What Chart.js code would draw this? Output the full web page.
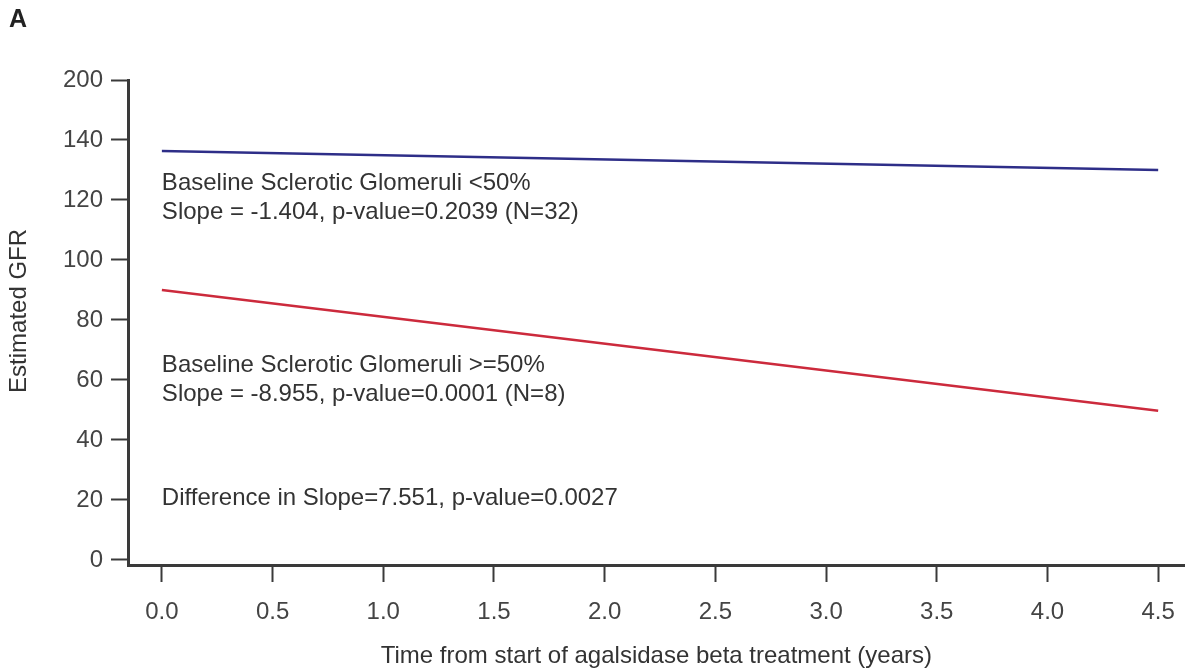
<!DOCTYPE html>
<html>
<head>
<meta charset="utf-8">
<script src="https://cdn.jsdelivr.net/npm/chart.js@4.4.0/dist/chart.umd.min.js"></script>
<style>
  html, body { margin: 0; padding: 0; background: #fff; }
  #wrap { position: relative; width: 1191px; height: 671px; }
  #panel { position: absolute; left: 9px; top: 4px; font: bold 25px "Liberation Sans", Arial, sans-serif; color: #222; }
</style>
</head>
<body>
<div id="wrap">
  <canvas id="c" width="1191" height="671"></canvas>
  <div id="panel">A</div>
</div>
<script>
// ---- data ----
const years = [0, 4.5];
const lowSclerotic = [136.3, 130.0];   // Baseline Sclerotic Glomeruli <50%
const highSclerotic = [90.0, 49.7];    // Baseline Sclerotic Glomeruli >=50%
const xTickValues = [0, 0.5, 1, 1.5, 2, 2.5, 3, 3.5, 4, 4.5];
const yTickValues = [0, 20, 40, 60, 80, 100, 120, 140, 160];
const yTickLabels = ['0', '20', '40', '60', '80', '100', '120', '140', '200'];
const yTitle = 'Estimated GFR';
const annotations = [
  { x: 0, y: 125.7, text: 'Baseline Sclerotic Glomeruli <50%' },
  { x: 0, y: 115.7, text: 'Slope = -1.404, p-value=0.2039 (N=32)' },
  { x: 0, y: 65.0, text: 'Baseline Sclerotic Glomeruli >=50%' },
  { x: 0, y: 55.3, text: 'Slope = -8.955, p-value=0.0001 (N=8)' },
  { x: 0, y: 20.5, text: 'Difference in Slope=7.551, p-value=0.0027' }
];

const FONT = '"Liberation Sans", Arial, sans-serif';
const AXIS = '#3a3a3a';
const FS = 24;

const textPlugin = {
  id: 'texts',
  afterDatasetsDraw(chart) {
    const { ctx, scales: { x, y } } = chart;
    ctx.save();
    ctx.font = FS + 'px ' + FONT;
    ctx.fillStyle = '#333';
    ctx.textAlign = 'left';
    ctx.textBaseline = 'middle';
    annotations.forEach(a => ctx.fillText(a.text, x.getPixelForValue(a.x), y.getPixelForValue(a.y)));
    // y-axis title, centred a little above the middle of the axis as in the original
    ctx.translate(19, y.getPixelForValue(83));
    ctx.rotate(-Math.PI / 2);
    ctx.textAlign = 'center';
    ctx.fillText(yTitle, 0, 0);
    ctx.restore();
  }
};

new Chart(document.getElementById('c'), {
  type: 'line',
  data: {
    datasets: [
      { label: '<50%', data: years.map((t, i) => ({ x: t, y: lowSclerotic[i] })), borderColor: '#2e2e88', borderWidth: 2.5, pointRadius: 0, fill: false },
      { label: '>=50%', data: years.map((t, i) => ({ x: t, y: highSclerotic[i] })), borderColor: '#cc2a3c', borderWidth: 2.5, pointRadius: 0, fill: false }
    ]
  },
  options: {
    responsive: false,
    animation: false,
    layout: { padding: { left: 0, top: 80, right: 6, bottom: 0 } },
    plugins: { legend: { display: false }, tooltip: { enabled: false } },
    scales: {
      x: {
        type: 'linear',
        min: -0.153,
        max: 4.62,
        afterBuildTicks: s => { s.ticks = xTickValues.map(v => ({ value: v })); },
        afterFit: s => { s.height = 106; },
        grid: { drawOnChartArea: false, drawTicks: true, tickLength: 17, tickWidth: 2, tickColor: AXIS },
        border: { display: true, color: AXIS, width: 3 },
        ticks: { padding: 16, color: '#444', font: { family: FONT, size: FS }, callback: v => Number(v).toFixed(1), maxRotation: 0, autoSkip: false },
        title: { display: true, text: 'Time from start of agalsidase beta treatment (years)', color: '#333', font: { family: FONT, size: FS }, padding: { top: 0, bottom: 0 } }
      },
      y: {
        type: 'linear',
        min: -1.7,
        max: 160,
        afterBuildTicks: s => { s.ticks = yTickValues.map(v => ({ value: v })); },
        afterFit: s => { s.width = 128; },
        grid: { drawOnChartArea: false, drawTicks: true, tickLength: 17, tickWidth: 2, tickColor: AXIS },
        border: { display: true, color: AXIS, width: 3 },
        ticks: { padding: 8, color: '#444', font: { family: FONT, size: FS }, autoSkip: false, callback: (v) => yTickLabels[yTickValues.indexOf(v)] },
        title: { display: false }
      }
    }
  },
  plugins: [textPlugin]
});
</script>
</body>
</html>
